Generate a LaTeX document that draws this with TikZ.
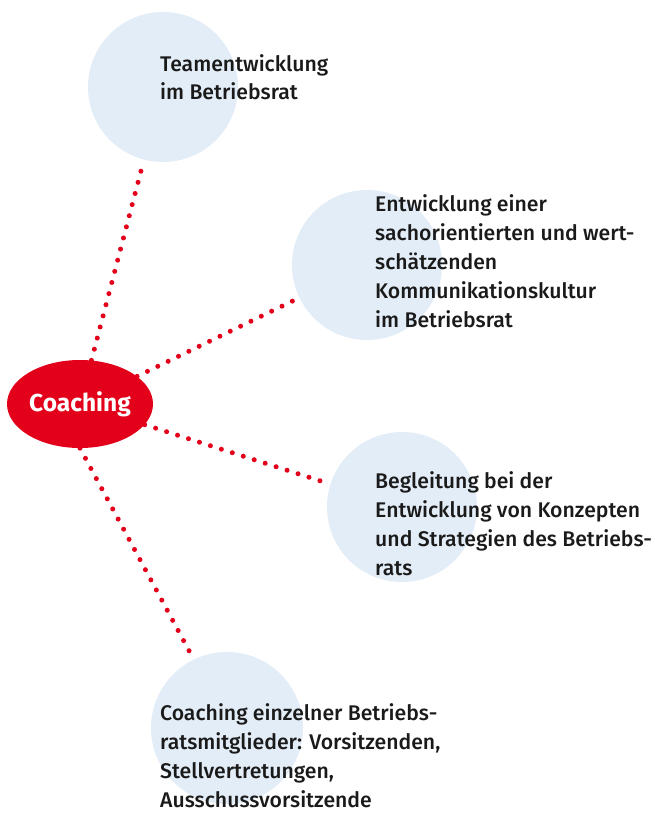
\documentclass[tikz,border=0pt]{standalone}
\usepackage{fontspec}
\setmainfont{Fira Sans}
\newfontfamily\medfont{Fira Sans Medium}
\usetikzlibrary{shapes.geometric}
\definecolor{cred}{HTML}{E2001A}
\definecolor{cblue}{HTML}{E3EDF7}
\definecolor{ctext}{HTML}{1A1A1A}
\begin{document}
\begin{tikzpicture}[x=1pt,y=-1pt,
  bubble/.style={circle, fill=cblue, minimum size=150pt, inner sep=0pt, outer sep=4pt},
  txt/.style={anchor=base west, align=left, inner sep=0pt, font=\medfont\fontsize{21.2}{28.8}\selectfont, text=ctext},
  link/.style={draw=cred, line width=5pt, line cap=round, dash pattern=on 0pt off 11.5pt}]
\useasboundingbox[fill=white] (0,0) rectangle (654,813);
\node[bubble] (b1) at (163,87) {};
\node[bubble] (b2) at (367,265) {};
\node[bubble] (b3) at (402,507) {};
\node[bubble, minimum size=152pt] (b4) at (227,728) {};
\node[ellipse, fill=cred, minimum width=146pt, minimum height=88pt, inner sep=0pt,
  text=white, font=\bfseries\fontsize{24.5}{28}\selectfont] (c) at (80,404) {Coaching};
\draw[link] (c) -- (b1);
\draw[link] (c) -- (b2);
\draw[link] (c) -- (b3);
\draw[link] (c.south) -- (b4.116);
\node[txt] (t1) at (160,100) {Teamentwicklung\\im Betriebsrat};
\node[txt] (t2) at (375,327) {Entwicklung einer\\sachorientierten und wert-\\schätzenden\\Kommunikationskultur\\im Betriebsrat};
\node[txt] (t3) at (375,575) {Begleitung bei der\\Entwicklung von Konzepten\\und Strategien des Betriebs-\\rats};
\node[txt] (t4) at (160,807) {Coaching einzelner Betriebs-\\ratsmitglieder: Vorsitzenden,\\Stellvertretungen,\\Ausschussvorsitzende};
\end{tikzpicture}
\end{document}
